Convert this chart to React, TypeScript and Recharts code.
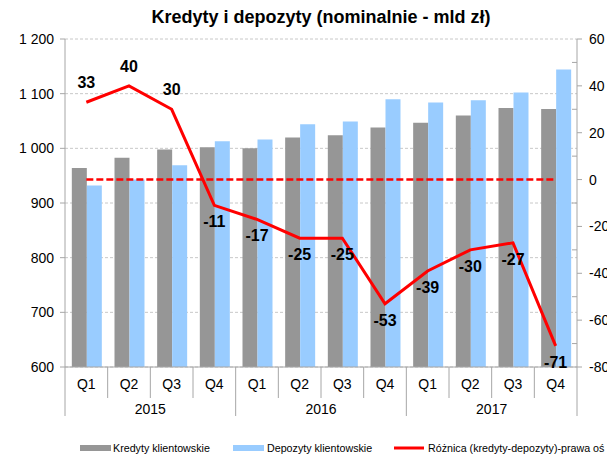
import { ComposedChart, Bar, Line, XAxis, YAxis, CartesianGrid, LabelList } from 'recharts'

const quarters = ['Q1', 'Q2', 'Q3', 'Q4', 'Q1', 'Q2', 'Q3', 'Q4', 'Q1', 'Q2', 'Q3', 'Q4']
const years = ['2015', '2015', '2015', '2015', '2016', '2016', '2016', '2016', '2017', '2017', '2017', '2017']
const kredyty = [964, 983, 998, 1002, 1000, 1020, 1024, 1038, 1047, 1060, 1074, 1072]
const depozyty = [932, 943, 969, 1013, 1016, 1044, 1049, 1090, 1084, 1088, 1102, 1144]
const roznica = [33, 40, 30, -11, -17, -25, -25, -53, -39, -30, -27, -71]
const zero = [0, 0, 0, 0, 0, 0, 0, 0, 0, 0, 0, 0]
const leftTicks = [600, 700, 800, 900, 1000, 1100, 1200]
const rightTicks = [-80, -70, -60, -50, -40, -30, -20, -10, 0, 10, 20, 30, 40, 50, 60]
const seriesNames = ['Kredyty klientowskie', 'Depozyty klientowskie', 'Różnica (kredyty-depozyty)-prawa oś']
const title = 'Kredyty i depozyty (nominalnie - mld zł)'

const FONT = '"Liberation Sans", Arial, sans-serif'
const AXIS = '#a6a6a6'
const GRAY = '#969696'
const BLUE = '#99ccff'
const RED = '#ff0000'
const BAND = 512 / 12

const data = quarters.map((q, i) => ({
  key: `${years[i]} ${q}`,
  kredyty: kredyty[i],
  depozyty: depozyty[i],
  roznica: roznica[i],
  zero: zero[i],
}))

const fmtLeft = (v: number) =>
  v >= 1000 ? `${Math.floor(v / 1000)} ${String(v % 1000).padStart(3, '0')}` : String(v)

function XTick({ x, y, payload }: any) {
  const i = payload.index
  const left = x - BAND / 2
  const yearStart = i % 4 === 0
  return (
    <g>
      <line x1={left} x2={left} y1={y} y2={y + (yearStart ? 49 : 31)} stroke={AXIS} />
      {i === quarters.length - 1 && (
        <line x1={x + BAND / 2} x2={x + BAND / 2} y1={y} y2={y + 49} stroke={AXIS} />
      )}
      <text x={x} y={y + 22} textAnchor="middle" fontSize={14} fontFamily={FONT} fill="#000">
        {quarters[i]}
      </text>
      {i % 4 === 1 && (
        <text x={x + BAND / 2} y={y + 47} textAnchor="middle" fontSize={14} fontFamily={FONT} fill="#000">
          {years[i]}
        </text>
      )}
    </g>
  )
}

function RightTick({ x, y, payload }: any) {
  const v = payload.value
  const major = v % 20 === 0
  return (
    <g>
      <line x1={x} x2={major ? x + 5 : x - 5} y1={y} y2={y} stroke={AXIS} />
      {major && (
        <text x={x + 12} y={y} dy="0.355em" fontSize={14} fontFamily={FONT} fill="#000">
          {v}
        </text>
      )}
    </g>
  )
}

function DiffLabel({ x, y, value }: any) {
  return (
    <text
      x={x}
      y={value > 0 ? y - 14 : y + 22}
      textAnchor="middle"
      fontSize={16}
      fontWeight="bold"
      fontFamily={FONT}
      fill="#000"
    >
      {value}
    </text>
  )
}

export default function App() {
  return (
    <div style={{ position: 'absolute', left: 0, top: 0, width: 607, height: 454, background: '#fff' }}>
      <ComposedChart
        width={607}
        height={454}
        data={data}
        margin={{ top: 39, right: 0, left: 0, bottom: 37 }}
        barCategoryGap="16%"
        barGap={0}
      >
        <CartesianGrid vertical={false} stroke="#c8c8c8" strokeDasharray="3 2" yAxisId="left" />
        <XAxis
          dataKey="key"
          interval={0}
          height={50}
          tickSize={0}
          tickMargin={0}
          tickLine={false}
          axisLine={{ stroke: AXIS }}
          tick={<XTick />}
        />
        <YAxis
          yAxisId="left"
          domain={[600, 1200]}
          ticks={leftTicks}
          width={65}
          tickFormatter={fmtLeft}
          tickSize={5}
          tickMargin={6}
          tickLine={{ stroke: AXIS }}
          axisLine={{ stroke: AXIS }}
          tick={{ fill: '#000', fontSize: 14, fontFamily: FONT }}
        />
        <YAxis
          yAxisId="right"
          orientation="right"
          domain={[-80, 60]}
          ticks={rightTicks}
          interval={0}
          width={30}
          tickSize={0}
          tickMargin={0}
          tickLine={false}
          axisLine={{ stroke: AXIS }}
          tick={<RightTick />}
        />
        <Bar yAxisId="left" dataKey="kredyty" fill={GRAY} isAnimationActive={false} />
        <Bar yAxisId="left" dataKey="depozyty" fill={BLUE} isAnimationActive={false} />
        <Line
          yAxisId="right"
          dataKey="zero"
          stroke={RED}
          strokeWidth={2.5}
          strokeDasharray="7 3"
          dot={false}
          activeDot={false}
          isAnimationActive={false}
        />
        <Line
          yAxisId="right"
          dataKey="roznica"
          stroke={RED}
          strokeWidth={3}
          dot={false}
          activeDot={false}
          isAnimationActive={false}
        >
          <LabelList dataKey="roznica" content={<DiffLabel />} />
        </Line>
      </ComposedChart>
      <svg
        width={607}
        height={454}
        style={{ position: 'absolute', left: 0, top: 0, pointerEvents: 'none' }}
      >
        <text x={321} y={23} textAnchor="middle" fontSize={18} fontWeight="bold" fontFamily={FONT} fill="#000">
          {title}
        </text>
        <rect x={80} y={445} width={31} height={6} fill={GRAY} />
        <text x={113} y={452} fontSize={10.7} fontFamily={FONT} fill="#000">
          {seriesNames[0]}
        </text>
        <rect x={233} y={445} width={31} height={6} fill={BLUE} />
        <text x={267} y={452} fontSize={10.7} fontFamily={FONT} fill="#000">
          {seriesNames[1]}
        </text>
        <line x1={394} x2={424} y1={448} y2={448} stroke={RED} strokeWidth={3} />
        <text x={428} y={452} fontSize={10.7} fontFamily={FONT} fill="#000">
          {seriesNames[2]}
        </text>
      </svg>
    </div>
  )
}
